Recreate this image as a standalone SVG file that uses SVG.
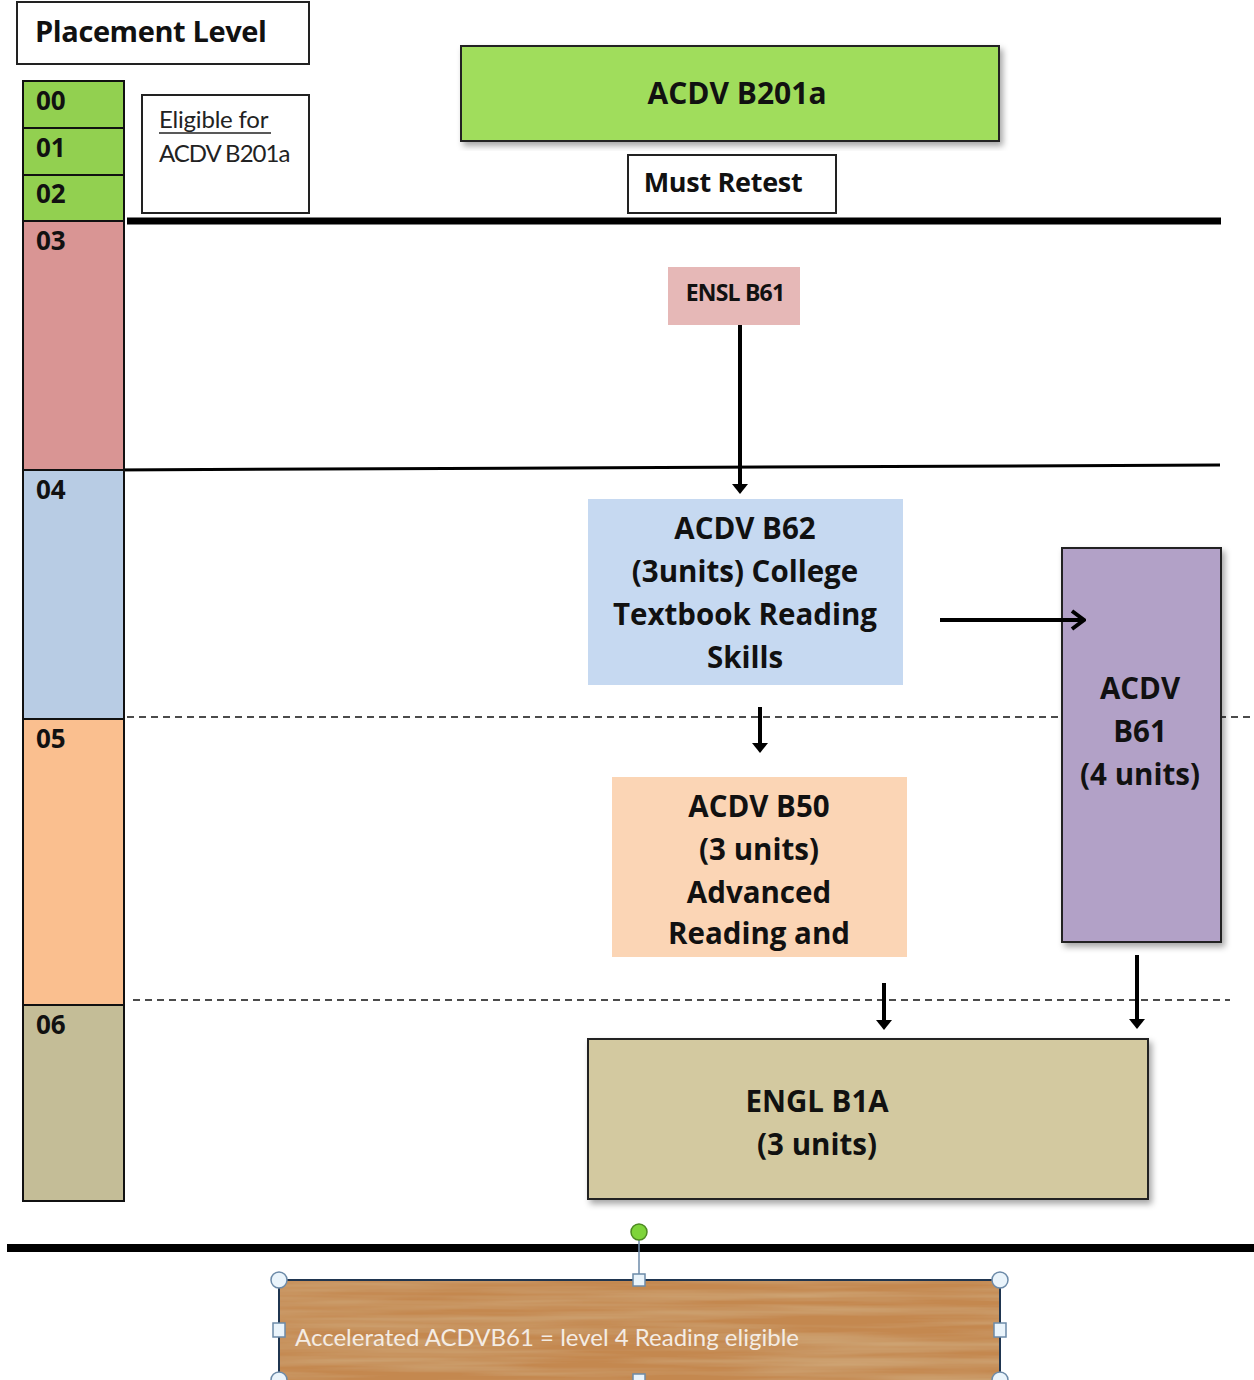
<svg xmlns="http://www.w3.org/2000/svg" width="1254" height="1380" viewBox="0 0 1254 1380">
  <defs>
    <style>
      .b { font-family: "Open Sans", Lato, "Liberation Sans", sans-serif; font-weight: bold; fill: #111; }
      .r { font-family: Lato, "Open Sans", "Liberation Sans", sans-serif; fill: #222; }
      .lvl { stroke: #111; stroke-width: 2; }
      .box { stroke: #222; stroke-width: 2; }
      .dash { stroke: #111; stroke-width: 1.5; stroke-dasharray: 7 5; fill: none; }
      .conn { stroke: #000; stroke-width: 4; fill: none; }
      .handle { fill: #eaf4fb; stroke: #6c8aa8; stroke-width: 1.5; }
    </style>
    <marker id="tip" viewBox="0 0 10 16" refX="3" refY="8" markerWidth="10" markerHeight="16" orient="auto" markerUnits="userSpaceOnUse" preserveAspectRatio="none">
      <path d="M0,0 L10,8 L0,16 Z" fill="#000"/>
    </marker>
    <marker id="chev" viewBox="0 0 16 22" refX="14" refY="11" markerWidth="16" markerHeight="22" orient="auto" markerUnits="userSpaceOnUse">
      <path d="M2,2 L14,11 L2,20" fill="none" stroke="#000" stroke-width="4"/>
    </marker>
    <filter id="shadow" x="-5%" y="-5%" width="115%" height="115%">
      <feDropShadow dx="3" dy="4" stdDeviation="3" flood-color="#000" flood-opacity="0.35"/>
    </filter>
    <filter id="wood" x="0" y="0" width="100%" height="100%">
      <feTurbulence type="fractalNoise" baseFrequency="0.004 0.12" numOctaves="3" seed="7" result="n"/>
      <feColorMatrix in="n" type="matrix" values="0 0 0 0 0.62  0 0 0 0 0.38  0 0 0 0 0.18  0 0 0 -1.6 1.1" result="g"/>
      <feComposite in="g" in2="SourceGraphic" operator="atop"/>
    </filter>
  </defs>

  <!-- separators between placement bands -->
  <g id="rules">
    <line x1="127" y1="221" x2="1221" y2="221" stroke="#000" stroke-width="7"/>
    <line x1="110" y1="470" x2="1220" y2="465" stroke="#000" stroke-width="3"/>
    <line class="dash" x1="127" y1="717" x2="1254" y2="717"/>
    <line class="dash" x1="133" y1="1000" x2="1230" y2="1000"/>
    <line x1="7" y1="1248" x2="1254" y2="1248" stroke="#000" stroke-width="8"/>
  </g>

  <g id="placement-title">
    <rect x="17" y="2" width="292" height="62" fill="#fff" class="box"/>
    <text class="b" x="35" y="42" font-size="29" letter-spacing="-0.4">Placement Level</text>
  </g>

  <g id="levels">
    <rect class="lvl" x="23" y="81" width="101" height="47" fill="#92d050"/>
    <rect class="lvl" x="23" y="128" width="101" height="47" fill="#92d050"/>
    <rect class="lvl" x="23" y="175" width="101" height="46" fill="#92d050"/>
    <rect class="lvl" x="23" y="221" width="101" height="249" fill="#d99594"/>
    <rect class="lvl" x="23" y="470" width="101" height="249" fill="#b8cce4"/>
    <rect class="lvl" x="23" y="719" width="101" height="286" fill="#fabf8f"/>
    <rect class="lvl" x="23" y="1005" width="101" height="196" fill="#c4bd97"/>
    <g class="b" font-size="26">
      <text x="36" y="110">00</text>
      <text x="36" y="157">01</text>
      <text x="36" y="203">02</text>
      <text x="36" y="250">03</text>
      <text x="36" y="499">04</text>
      <text x="36" y="748">05</text>
      <text x="36" y="1034">06</text>
    </g>
  </g>

  <g id="eligible">
    <rect x="142" y="95" width="167" height="118" fill="#fff" class="box"/>
    <text class="r" x="159" y="128" font-size="24" letter-spacing="-0.2">Eligible for</text>
    <line x1="159" y1="133" x2="271" y2="133" stroke="#222" stroke-width="1.5"/>
    <text class="r" x="159" y="162" font-size="24" letter-spacing="-1">ACDV B201a</text>
  </g>

  <g id="acdv-b201a">
    <rect x="461" y="46" width="538" height="95" fill="#a0dd5c" class="box" filter="url(#shadow)"/>
    <text class="b" x="737" y="104" font-size="30" text-anchor="middle">ACDV B201a</text>
  </g>

  <g id="must-retest">
    <rect x="628" y="155" width="208" height="58" fill="#fff" class="box"/>
    <text class="b" x="723" y="192" font-size="27" text-anchor="middle" letter-spacing="-0.3">Must Retest</text>
  </g>

  <g id="ensl-b61">
    <rect x="668" y="267" width="132" height="58" fill="#e6b8b7"/>
    <text class="b" x="735" y="301" font-size="23" text-anchor="middle" letter-spacing="-0.8">ENSL B61</text>
  </g>

  <g id="acdv-b62">
    <rect x="588" y="499" width="315" height="186" fill="#c6d9f1"/>
    <g class="b" font-size="29.5" text-anchor="middle">
      <text x="745" y="539">ACDV B62</text>
      <text x="745" y="582">(3units) College</text>
      <text x="745" y="625">Textbook Reading</text>
      <text x="745" y="668">Skills</text>
    </g>
  </g>

  <g id="acdv-b61">
    <rect x="1062" y="548" width="159" height="394" fill="#b2a1c7" class="box" filter="url(#shadow)"/>
    <g class="b" font-size="29.5" text-anchor="middle">
      <text x="1140" y="699">ACDV</text>
      <text x="1140" y="742">B61</text>
      <text x="1140" y="785">(4 units)</text>
    </g>
  </g>

  <g id="acdv-b50">
    <rect x="612" y="777" width="295" height="180" fill="#fbd5b5"/>
    <g class="b" font-size="29.5" text-anchor="middle">
      <text x="759" y="817">ACDV B50</text>
      <text x="759" y="860">(3 units)</text>
      <text x="759" y="903">Advanced</text>
      <text x="759" y="944">Reading and</text>
    </g>
  </g>

  <g id="engl-b1a">
    <rect x="588" y="1039" width="560" height="160" fill="#d3c9a0" class="box" filter="url(#shadow)"/>
    <g class="b" font-size="29.5" text-anchor="middle">
      <text x="817" y="1112">ENGL B1A</text>
      <text x="817" y="1155">(3 units)</text>
    </g>
  </g>

  <g id="connectors">
    <line class="conn" x1="740" y1="325" x2="740" y2="487" marker-end="url(#tip)"/>
    <line class="conn" x1="940" y1="620" x2="1084" y2="620" marker-end="url(#chev)"/>
    <line class="conn" x1="760" y1="707" x2="760" y2="746" marker-end="url(#tip)"/>
    <line class="conn" x1="884" y1="983" x2="884" y2="1023" marker-end="url(#tip)"/>
    <line class="conn" x1="1137" y1="955" x2="1137" y2="1022" marker-end="url(#tip)"/>
  </g>

  <g id="accelerated-note">
    <rect x="279" y="1280" width="721" height="110" fill="#c4884f" filter="url(#wood)"/>
    <rect x="279" y="1280" width="721" height="110" fill="none" stroke="#1f3550" stroke-width="2"/>
    <text x="295" y="1346" font-size="24" fill="#f4ece4" font-family="Lato, 'Open Sans', 'Liberation Sans', sans-serif">Accelerated ACDVB61 = level 4 Reading eligible</text>
    <!-- selection handles -->
    <line x1="639" y1="1240" x2="639" y2="1280" stroke="#6c8aa8" stroke-width="1.5"/>
    <circle cx="639" cy="1232" r="8" fill="#7ed43a" stroke="#4d8a22" stroke-width="1.5"/>
    <circle class="handle" cx="279" cy="1280" r="8"/>
    <circle class="handle" cx="1000" cy="1280" r="8"/>
    <circle class="handle" cx="279" cy="1380" r="8"/>
    <circle class="handle" cx="1000" cy="1380" r="8"/>
    <rect class="handle" x="633" y="1274" width="12" height="12"/>
    <rect class="handle" x="273" y="1323" width="12" height="14"/>
    <rect class="handle" x="994" y="1323" width="12" height="14"/>
    <rect class="handle" x="633" y="1374" width="12" height="12"/>
  </g>
</svg>
